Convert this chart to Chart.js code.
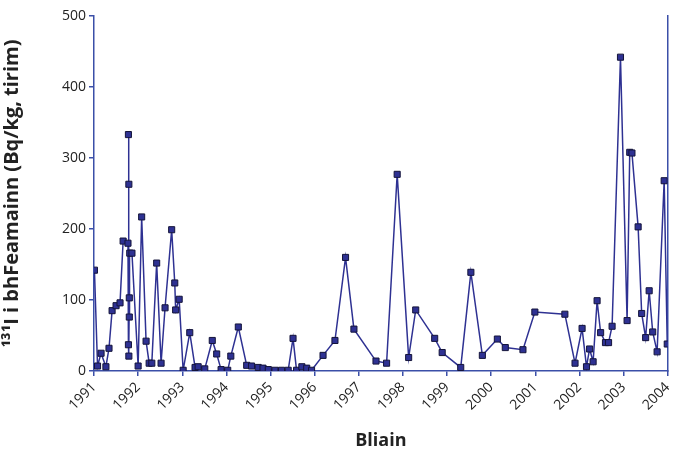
<!DOCTYPE html>
<html>
<head>
<meta charset="utf-8">
<script src="https://cdn.jsdelivr.net/npm/chart.js@4.4.1/dist/chart.umd.min.js"></script>
<style>
  body { margin: 0; background: #fff; }
  #wrap { width: 673px; height: 456px; position: relative; }
</style>
</head>
<body>
<div id="wrap"><canvas id="chart"></canvas></div>
<script>
// sample dates (decimal years) and 131I in seaweed, Bq/kg dry
const sampleDates = [
  1991.01, 1991.08, 1991.16, 1991.27, 1991.34, 1991.41, 1991.50, 1991.59, 1991.66,
  1991.77, 1991.78, 1991.78, 1991.79, 1991.79, 1991.80, 1991.80, 1991.81, 1991.86,
  1992.00, 1992.08, 1992.18, 1992.25, 1992.31, 1992.42, 1992.52, 1992.61, 1992.76,
  1992.83, 1992.85, 1992.93, 1993.02, 1993.17, 1993.29, 1993.36, 1993.51, 1993.68,
  1993.78, 1993.88, 1994.03, 1994.10, 1994.27, 1994.46, 1994.57, 1994.72, 1994.83,
  1994.95, 1995.10, 1995.25, 1995.40, 1995.51, 1995.59, 1995.71, 1995.82, 1995.93,
  1996.19, 1996.46, 1996.70, 1996.89, 1997.39, 1997.63, 1997.87, 1998.13, 1998.29,
  1998.72, 1998.89, 1999.31, 1999.54, 1999.80, 2000.14, 2000.32, 2000.72, 2000.99,
  2001.67, 2001.90, 2002.06, 2002.16, 2002.23, 2002.31, 2002.40, 2002.48, 2002.59,
  2002.66, 2002.74, 2002.93, 2003.08, 2003.14, 2003.19, 2003.33, 2003.41, 2003.50,
  2003.58, 2003.66, 2003.76, 2003.92, 2003.99
];
const iodineValues = [
  142, 7, 25, 6, 32, 85, 92, 96, 183,
  180, 37, 333, 263, 21, 103, 76, 166, 166,
  7, 217, 42, 11, 11, 152, 11, 89, 199,
  124, 86, 101, 1, 54, 5, 6, 3, 43,
  24, 2, 1, 21, 62, 8, 7, 5, 4,
  2, 1, 1, 1, 46, 1, 6, 4, 1,
  22, 43, 160, 59, 14, 11, 277, 19, 86,
  46, 26, 5, 139, 22, 45, 33, 30, 83,
  80, 11, 60, 6, 31, 13, 99, 54, 40,
  40, 63, 442, 71, 308, 307, 203, 81, 47,
  113, 55, 27, 268, 38
];
const yearTicks = [1991, 1992, 1993, 1994, 1995, 1996, 1997, 1998, 1999, 2000, 2001, 2002, 2003, 2004];

const lineColor = '#2E3192';
const axisColor = '#3B4FA8';
const font = "'Open Sans', 'Noto Sans', sans-serif";

const points = sampleDates.map((d, i) => ({ x: d, y: iodineValues[i] }));

new Chart(document.getElementById('chart'), {
  type: 'line',
  data: {
    datasets: [{
      data: points,
      borderColor: lineColor,
      borderWidth: 1.5,
      pointStyle: 'rect',
      pointRadius: 4.3,
      pointBackgroundColor: lineColor,
      pointBorderColor: '#14143a',
      pointBorderWidth: 1,
      tension: 0,
      fill: false
    }]
  },
  options: {
    responsive: true,
    maintainAspectRatio: false,
    animation: false,
    layout: { padding: { top: 16, right: 5, left: 0, bottom: 0 } },
    plugins: { legend: { display: false }, tooltip: { enabled: false } },
    scales: {
      x: {
        type: 'linear',
        min: 1991,
        max: 2004,
        afterBuildTicks: (scale) => { scale.ticks = yearTicks.map(v => ({ value: v })); },
        afterFit: (scale) => {
          scale.height = 85;
          scale.paddingLeft = 0;
          scale.paddingRight = 0;
        },
        border: { display: true, color: axisColor, width: 1.5 },
        grid: { drawOnChartArea: false, color: axisColor, tickLength: 5, lineWidth: 1.5 },
        ticks: {
          callback: (v) => String(v),
          minRotation: 45,
          maxRotation: 45,
          padding: 3,
          color: '#222',
          font: { family: font, size: 14 }
        },
        title: {
          display: true,
          text: 'Bliain',
          color: '#222',
          padding: { top: 2 },
          font: { family: font, size: 18, weight: 'bold' }
        }
      },
      y: {
        min: 0,
        max: 500,
        afterFit: (scale) => { scale.width = 94; },
        border: { display: true, color: axisColor, width: 1.5 },
        grid: { drawOnChartArea: false, color: axisColor, tickLength: 5, lineWidth: 1.5 },
        ticks: {
          stepSize: 100,
          padding: 3,
          color: '#222',
          font: { family: font, size: 14 }
        },
        title: {
          display: true,
          text: '¹³¹I i bhFeamainn (Bq/kg, tirim)',
          color: '#222',
          padding: { top: 0, bottom: 2 },
          font: { family: font, size: 20, weight: 'bold' }
        }
      },
      yRight: {
        position: 'right',
        min: 0,
        max: 500,
        afterFit: (scale) => { scale.width = 0; },
        border: { display: true, color: axisColor, width: 1.5 },
        grid: { display: false },
        ticks: { display: false }
      }
    }
  }
});
</script>
</body>
</html>
